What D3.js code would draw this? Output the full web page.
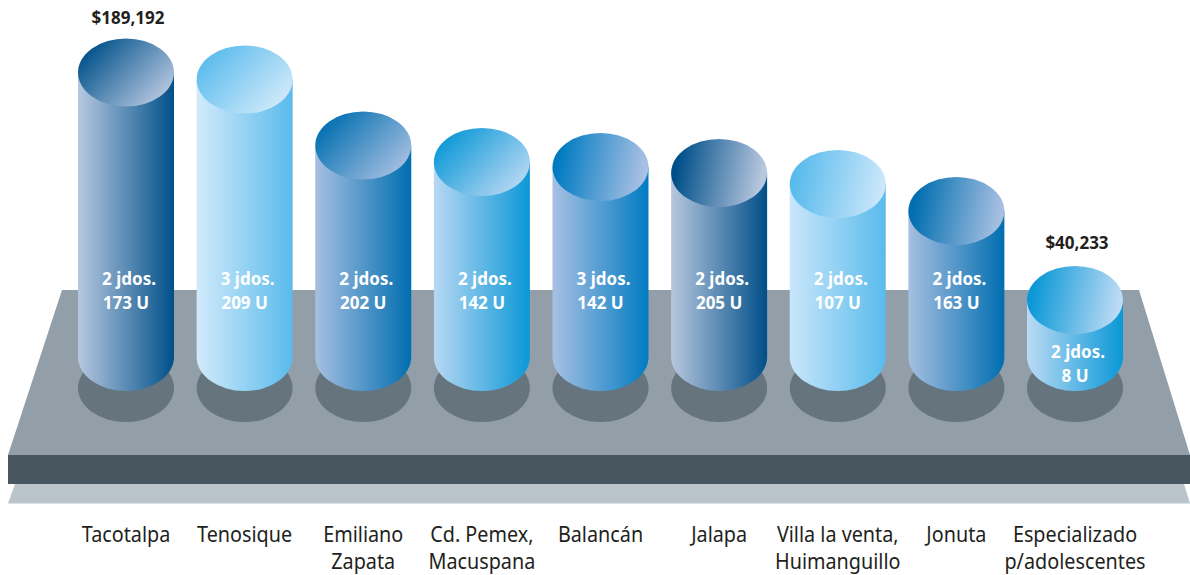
<!DOCTYPE html>
<html>
<head>
<meta charset="utf-8">
<script src="https://cdn.jsdelivr.net/npm/d3@7"></script>
<style>
  html, body { margin: 0; padding: 0; background: #fff; overflow: hidden; }
  svg { display: block; }
  text { font-family: "Noto Sans", "Open Sans", sans-serif; }
</style>
</head>
<body>
<script>
// categories, split on two lines where the original wraps
var categories = [['Tacotalpa'], ['Tenosique'], ['Emiliano', 'Zapata'], ['Cd. Pemex,', 'Macuspana'], ['Balancán'], ['Jalapa'], ['Villa la venta,', 'Huimanguillo'], ['Jonuta'], ['Especializado', 'p/adolescentes']];
var amounts = [189192, 184600, 141400, 130600, 127300, 123400, 116200, 98500, 40233];
var amountLabels = ['$189,192', '', '', '', '', '', '', '', '$40,233'];
var juzgados = [2, 3, 2, 2, 3, 2, 2, 2, 2];
var unidades = [173, 209, 202, 142, 142, 205, 107, 163, 8];

var lightColors = ['#b7c8e0', '#d2eafb', '#a6bfe1', '#b8d8f3', '#a8c0e3', '#b7c7de', '#c9e6fb', '#a6bfe1', '#bbdaf4'];
var darkColors = ['#00508a', '#59bbec', '#006eb0', '#0a98d7', '#007bc2', '#004f89', '#59bbec', '#006eb0', '#0a98d7'];
var capTilt = [0.6, 0.6, 0.6, 0.6, 0.12, 0.12, 0.12, 0.12, 0.12]; // how diagonal the lid gradient runs

var width = 1190, height = 575;
var rx = 48, ry = 34, floorY = 357;
var last = amounts.length - 1;

var x = d3.scalePoint().domain(d3.range(categories.length)).range([126, 1075]);
var y = d3.scaleLinear().domain([40233, 189192]).range([300, 72.5]);

var svg = d3.select('body').append('svg').attr('width', width).attr('height', height);
var defs = svg.append('defs');

amounts.forEach((d, i) => {
  var body = defs.append('linearGradient').attr('id', 'body' + i);
  body.append('stop').attr('offset', 0).attr('stop-color', lightColors[i]);
  body.append('stop').attr('offset', 1).attr('stop-color', darkColors[i]);

  var cap = defs.append('linearGradient').attr('id', 'cap' + i)
    .attr('x1', 0.05).attr('y1', 0.5 - capTilt[i] / 2)
    .attr('x2', 0.95).attr('y2', 0.5 + capTilt[i] / 2);
  cap.append('stop').attr('offset', 0).attr('stop-color', darkColors[i]);
  cap.append('stop').attr('offset', 1).attr('stop-color', lightColors[i]);
});

// platform
svg.append('polygon').attr('points', '15,484 1184,484 1190,503.5 8,503.5').attr('fill', '#b9c4cb');
svg.append('rect').attr('x', 8).attr('y', 455).attr('width', 1182).attr('height', 29).attr('fill', '#47565f');
svg.append('polygon').attr('points', '62,290 1139,290 1190,455 8,455').attr('fill', '#929fa8');

var bars = svg.selectAll('g.cyl')
  .data(amounts)
  .enter().append('g')
    .attr('class', 'cyl');

bars.append('ellipse')
  .attr('cx', (d, i) => x(i))
  .attr('cy', floorY + 31)
  .attr('rx', rx)
  .attr('ry', ry)
  .attr('fill', '#65747d');

bars.append('path')
  .attr('d', (d, i) => `M${x(i) - rx},${y(d)} V${floorY} A${rx},${ry} 0 0 0 ${x(i) + rx},${floorY} V${y(d)} Z`)
  .attr('fill', (d, i) => `url(#body${i})`);

bars.append('ellipse')
  .attr('cx', (d, i) => x(i))
  .attr('cy', d => y(d))
  .attr('rx', rx)
  .attr('ry', ry)
  .attr('fill', (d, i) => `url(#cap${i})`);

// no condensed font installed, so squeeze the text sideways
var squeeze = (px, py, s) => `translate(${px},${py}) scale(${s},1)`;

// labels inside the cylinders, the short last one sits lower
var lineY = i => (i === last ? 358 : 285);

bars.append('text')
  .attr('transform', (d, i) => squeeze(x(i) + 3, lineY(i), 0.945))
  .attr('text-anchor', 'middle')
  .attr('font-size', 18)
  .attr('font-weight', 700)
  .attr('fill', '#fff')
  .text((d, i) => juzgados[i] + ' jdos.');

bars.append('text')
  .attr('transform', (d, i) => squeeze(x(i), lineY(i) + 24, 0.945))
  .attr('text-anchor', 'middle')
  .attr('font-size', 18)
  .attr('font-weight', 700)
  .attr('fill', '#fff')
  .text((d, i) => unidades[i] + ' U');

bars.append('text')
  .attr('transform', (d, i) => squeeze(x(i) + 2, y(d) - (i === last ? 51 : 49), 0.945))
  .attr('text-anchor', 'middle')
  .attr('font-size', 18)
  .attr('font-weight', 700)
  .attr('fill', '#231f20')
  .text((d, i) => amountLabels[i]);

// category names
var catLines = categories.flatMap((d, i) => d.map((t, k) => ({t: t, k: k, i: i})));

svg.selectAll('text.cat')
  .data(catLines)
  .enter().append('text')
    .attr('class', 'cat')
    .attr('transform', d => squeeze(x(d.i), 541.5 + d.k * 27, 0.9))
    .attr('text-anchor', 'middle')
    .attr('font-size', 22)
    .attr('fill', '#231f20')
    .text(d => d.t);
</script>
</body>
</html>
